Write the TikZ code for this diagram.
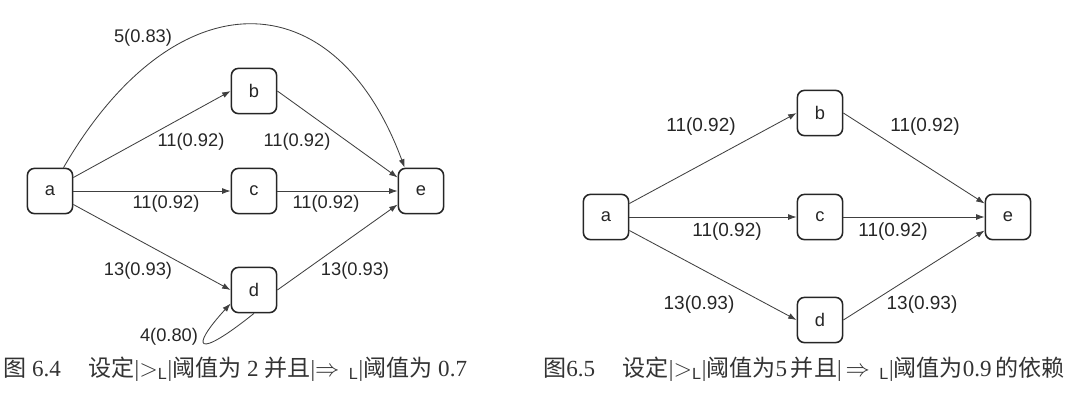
\documentclass[tikz,border=0pt]{standalone}
\usepackage{fontspec}
\setmainfont{Liberation Sans}
\newfontfamily\capfont{Liberation Serif}
\newfontfamily\cjk{Noto Sans CJK SC}
\usepackage{tikz}
\usetikzlibrary{arrows.meta}

\newcommand{\zh}[1]{{\cjk #1}}

\begin{document}
\begin{tikzpicture}[
        x=0.025cm, y=0.025cm,
        every node/.style={font=\fontsize{13pt}{15pt}\selectfont, text=black!85},
        box/.style={rectangle, draw=black!85, line width=1.1pt, rounded corners=5pt, minimum width=1.13cm, minimum height=1.13cm, inner sep=0pt},
        arrow/.style={-{Latex[length=6pt,width=4.2pt]}, draw=black!75, line width=0.6pt},
        weight/.style={inner sep=0pt},
        bigweight/.style={inner sep=0pt, font=\fontsize{13.5pt}{15pt}\selectfont},
        figcap/.style={anchor=west, inner sep=0pt, text=black!80, font=\capfont\fontsize{16.4pt}{19pt}\selectfont}
        ]
        \useasboundingbox (0,0) rectangle (1080,-404);

        % Fig 6.4
        \node[box] (a4) at (50,-191) {a};
        \node[box] (b4) at (254,-91) {b};
        \node[box] (c4) at (254,-191) {c};
        \node[box] (d4) at (254,-290) {d};
        \node[box] (e4) at (421,-191) {e};

        \draw[arrow] (a4.60) .. controls (174,23) and (334,23) .. (e4.125);
        \draw[arrow] (a4.30) -- (b4.west);
        \draw[arrow] (b4.east) -- (e4.150);
        \draw[arrow] (a4.east) -- (c4.west);
        \draw[arrow] (c4.east) -- (e4.west);
        \draw[arrow] (a4.-30) -- (d4.west);
        \draw[arrow] (d4.east) -- (e4.-150);
        \draw[arrow] (d4.south) .. controls (196,-360) and (189,-349) .. (d4.-150);

        \node[weight] at (143,-38) {5(0.83)};
        \node[weight] at (191,-142) {11(0.92)};
        \node[weight] at (297,-142) {11(0.92)};
        \node[weight] at (166,-204) {11(0.92)};
        \node[weight] at (326,-204) {11(0.92)};
        \node[weight] at (138,-271) {13(0.93)};
        \node[weight] at (355,-271) {13(0.93)};
        \node[weight] at (169,-337) {4(0.80)};

        \node[figcap] (cap4) at (3,-369) {\zh{图} 6.4\hspace{1.2em}\zh{设定}|$>_{\mathrm{L}}$|\zh{阈值为} 2 \zh{并且}|$\Rightarrow{}_{\,\mathrm{L}}$|\zh{阈值为} 0.7};

        % Fig 6.5
        \node[box] (a5) at (606,-217) {a};
        \node[box] (b5) at (820,-113) {b};
        \node[box] (c5) at (820,-217) {c};
        \node[box] (d5) at (820,-320) {d};
        \node[box] (e5) at (1008,-217) {e};

        \draw[arrow] (a5.30) -- (b5.west);
        \draw[arrow] (b5.east) -- (e5.150);
        \draw[arrow] (a5.east) -- (c5.west);
        \draw[arrow] (c5.east) -- (e5.west);
        \draw[arrow] (a5.-30) -- (d5.west);
        \draw[arrow] (d5.east) -- (e5.-150);

        \node[bigweight] at (701,-127) {11(0.92)};
        \node[bigweight] at (925,-127) {11(0.92)};
        \node[bigweight] at (727,-232) {11(0.92)};
        \node[bigweight] at (893,-232) {11(0.92)};
        \node[bigweight] at (699,-305) {13(0.93)};
        \node[bigweight] at (922,-305) {13(0.93)};

        \node[figcap] (cap5) at (543,-369) {\zh{图}6.5\hspace{1.2em}\zh{设定}|$>_{\mathrm{L}}$|\zh{阈值为}5\,\zh{并且}|\,$\Rightarrow{}_{\,\mathrm{L}}$|\zh{阈值为}0.9\,\zh{的依赖}};
\end{tikzpicture}
\end{document}
